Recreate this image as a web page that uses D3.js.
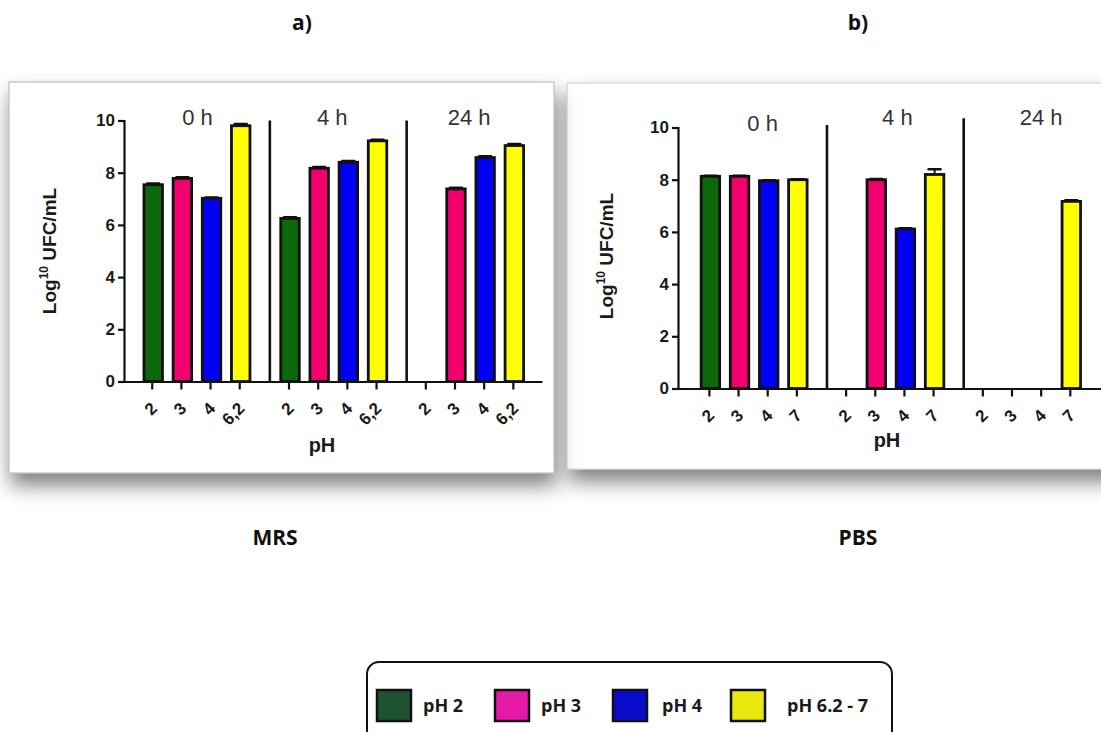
<!DOCTYPE html>
<html>
<head>
<meta charset="utf-8">
<script src="https://cdn.jsdelivr.net/npm/d3@7/dist/d3.min.js"></script>
<style>
  html, body { margin: 0; padding: 0; background: #ffffff; }
  svg { display: block; }
</style>
</head>
<body>
<svg id="fig" width="1101" height="732"></svg>
<script>
// Viable counts (log10 CFU/mL) by pH and exposure time
const times = ["0 h", "4 h", "24 h"];
const seriesNames = ["pH 2", "pH 3", "pH 4", "pH 6.2 - 7"];
const seriesColors = ["#0b690b", "#f2006e", "#0000f6", "#ffff00"];
const legendColors = ["#1f5230", "#e619a6", "#0b0bcc", "#e8e80c"];
const yTicks = [0, 2, 4, 6, 8, 10];

// MRS broth
const mrsPhLabels = ["2", "3", "4", "6,2"];
const mrs0h = [7.54, 7.78, 7.02, 9.8];
const mrs4h = [6.25, 8.17, 8.4, 9.22];
const mrs24h = [null, 7.38, 8.58, 9.04];
const mrsErr0h = [0.05, 0.05, 0.03, 0.07];
const mrsErr4h = [0.04, 0.05, 0.05, 0.04];
const mrsErr24h = [null, 0.04, 0.05, 0.06];

// PBS buffer
const pbsPhLabels = ["2", "3", "4", "7"];
const pbs0h = [8.13, 8.13, 7.96, 8.0];
const pbs4h = [null, 8.0, 6.11, 8.2];
const pbs24h = [null, null, null, 7.17];
const pbsErr0h = [0.02, 0.02, 0.02, 0.02];
const pbsErr4h = [null, 0.03, 0.03, 0.2];
const pbsErr24h = [null, null, null, 0.04];

const svg = d3.select("#fig");
const defs = svg.append("defs");

const shadow = defs.append("filter").attr("id", "cardShadow")
  .attr("x", "-10%").attr("y", "-10%").attr("width", "125%").attr("height", "135%");
shadow.append("feDropShadow").attr("dx", 2).attr("dy", 12).attr("stdDeviation", 10)
  .attr("flood-color", "#000").attr("flood-opacity", 0.5);

const headFont = "'Open Sans', sans-serif";
const chartFont = "'Liberation Sans', Arial, sans-serif";

// Cards behind the two panels
svg.append("rect").attr("x", 567).attr("y", 83).attr("width", 560).attr("height", 386)
  .attr("fill", "#fff").attr("stroke", "#cfcfcf").attr("stroke-width", 1)
  .attr("filter", "url(#cardShadow)");
svg.append("rect").attr("x", 9).attr("y", 82).attr("width", 545).attr("height", 391)
  .attr("fill", "#fff").attr("stroke", "#b0b0b0").attr("stroke-width", 1)
  .attr("filter", "url(#cardShadow)");

// Panel headings and medium names
function heading(x, y, t) {
  svg.append("text").attr("x", x).attr("y", y).attr("text-anchor", "middle")
    .attr("font-family", headFont).attr("font-weight", "bold").attr("font-size", 21)
    .attr("fill", "#111").text(t);
}
heading(302, 30, "a)");
heading(858, 30, "b)");
heading(275, 545, "MRS");
heading(858, 545, "PBS");

const GROUP_STEP = 4.69;   // slots between consecutive time groups
const BAR_W = 18.5;

function drawPanel(cfg) {
  const g = svg.append("g");
  const x = d3.scaleLinear().domain(cfg.xDomain).range([cfg.axisX, cfg.axisEnd]);
  const y = d3.scaleLinear().domain([0, 10]).range([cfg.y0, cfg.y0 - 261]);
  const slot = (gi, i) => gi * GROUP_STEP + i;

  // y axis
  const yAxis = g.append("g").attr("transform", `translate(${cfg.axisX},0)`)
    .call(d3.axisLeft(y).tickValues(yTicks).tickSize(6).tickPadding(3).tickFormat(d3.format("d")));
  yAxis.select(".domain").attr("stroke", "#111").attr("stroke-width", 2.2);
  yAxis.selectAll(".tick line").attr("stroke", "#111").attr("stroke-width", 2.2);
  yAxis.selectAll(".tick text").attr("font-family", chartFont).attr("font-weight", "bold")
    .attr("font-size", 17).attr("fill", "#1a1a1a");

  // x axis ticks, one per pH within each time group
  const tickPos = [];
  const tickLab = [];
  times.forEach((t, gi) => cfg.phLabels.forEach((p, i) => { tickPos.push(slot(gi, i)); tickLab.push(p); }));
  const xAxis = g.append("g").attr("transform", `translate(0,${cfg.y0})`)
    .call(d3.axisBottom(x).tickValues(tickPos).tickSize(8).tickFormat((d, i) => tickLab[i]).tickSizeOuter(0));
  xAxis.select(".domain").attr("stroke", "#111").attr("stroke-width", 2.2);
  xAxis.selectAll(".tick line").attr("stroke", "#111").attr("stroke-width", 2.2);
  xAxis.selectAll(".tick text")
    .attr("font-family", chartFont).attr("font-weight", "bold").attr("font-size", 17).attr("fill", "#1a1a1a")
    .attr("text-anchor", "end").attr("dy", null).attr("y", 0)
    .attr("transform", "translate(6,28) rotate(-45)");

  // separators between time groups
  [1, 2].forEach((gi, k) => {
    const sx = x(slot(gi - 1, 3) + 1.05);
    g.append("line").attr("x1", sx).attr("x2", sx)
      .attr("y1", y(0)).attr("y2", y(cfg.sepTops[k]))
      .attr("stroke", "#111").attr("stroke-width", 2.6);
  });

  // bars with upper error bars
  cfg.values.forEach((vals, gi) => {
    vals.forEach((v, i) => {
      if (v == null) return;
      const cx = x(slot(gi, i)) + 1.5;
      const err = cfg.errors[gi][i] || 0;
      g.append("line").attr("x1", cx).attr("x2", cx).attr("y1", y(v)).attr("y2", y(v + err))
        .attr("stroke", "#111").attr("stroke-width", 2);
      g.append("line").attr("x1", cx - 6).attr("x2", cx + 6).attr("y1", y(v + err)).attr("y2", y(v + err))
        .attr("stroke", "#111").attr("stroke-width", 2.5).attr("stroke-linecap", "round");
      g.append("rect").attr("x", cx - BAR_W / 2).attr("y", y(v)).attr("width", BAR_W)
        .attr("height", y(0) - y(v)).attr("fill", seriesColors[i])
        .attr("stroke", "#111").attr("stroke-width", 2.8);
    });
  });

  // time labels
  times.forEach((t, gi) => {
    g.append("text").attr("x", x(slot(gi, 1.5)) + cfg.labelDx[gi]).attr("y", cfg.labelY[gi])
      .attr("text-anchor", "middle").attr("font-family", chartFont).attr("font-size", 22)
      .attr("fill", "#333").text(t);
  });

  // axis titles
  const yt = g.append("text").attr("transform", `translate(${cfg.yTitle[0]},${cfg.yTitle[1]}) rotate(-90)`)
    .attr("text-anchor", "middle").attr("font-family", chartFont).attr("font-weight", "bold")
    .attr("font-size", 19).attr("fill", "#1a1a1a");
  yt.append("tspan").text("Log");
  yt.append("tspan").attr("font-size", 12).attr("dy", -8).text("10");
  yt.append("tspan").attr("dy", 8).text(" UFC/mL");

  g.append("text").attr("x", cfg.pHTitle[0]).attr("y", cfg.pHTitle[1]).attr("text-anchor", "middle")
    .attr("font-family", chartFont).attr("font-weight", "bold").attr("font-size", 20)
    .attr("fill", "#1a1a1a").text("pH");
}

drawPanel({
  axisX: 124, axisEnd: 542, y0: 381.5, xDomain: [-0.95, 13.38],
  phLabels: mrsPhLabels,
  values: [mrs0h, mrs4h, mrs24h], errors: [mrsErr0h, mrsErr4h, mrsErr24h],
  sepTops: [10, 10], labelDx: [2, 0, 0], labelY: [125, 125, 125],
  yTitle: [56, 251], pHTitle: [322, 452]
});

drawPanel({
  axisX: 678, axisEnd: 1101, y0: 388.5, xDomain: [-1.06, 13.45],
  phLabels: pbsPhLabels,
  values: [pbs0h, pbs4h, pbs24h], errors: [pbsErr0h, pbsErr4h, pbsErr24h],
  sepTops: [10.1, 10.35], labelDx: [10, 8, 15], labelY: [131, 125, 125],
  yTitle: [613, 256], pHTitle: [887, 447]
});

// Legend
const legend = svg.append("g");
legend.append("rect").attr("x", 367).attr("y", 662).attr("width", 525).attr("height", 80)
  .attr("rx", 12).attr("fill", "#fff").attr("stroke", "#111").attr("stroke-width", 2);
const legX = [377, 495, 613, 731];
const legTextX = [423, 541, 662, 787];
seriesNames.forEach((s, i) => {
  legend.append("rect").attr("x", legX[i]).attr("y", 690).attr("width", 34).attr("height", 31)
    .attr("fill", legendColors[i]).attr("stroke", "#111").attr("stroke-width", 2.5);
  legend.append("text").attr("x", legTextX[i]).attr("y", 712)
    .attr("font-family", "'Open Sans', sans-serif").attr("font-weight", "bold").attr("font-size", 18)
    .attr("fill", "#1a1a1a").text(s);
});
</script>
</body>
</html>
